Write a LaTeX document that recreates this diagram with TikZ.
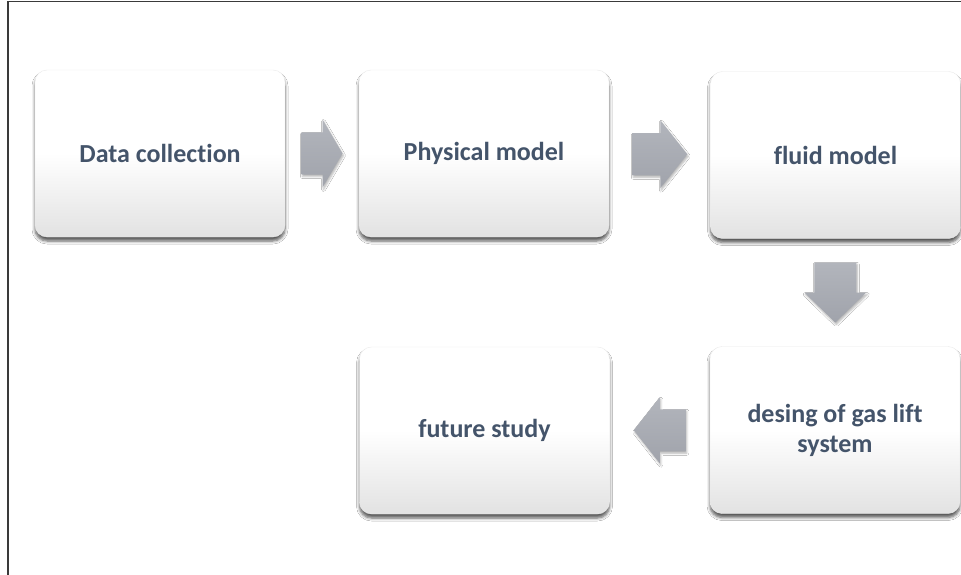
\documentclass[tikz,border=0pt]{standalone}
\usepackage{fontspec}
\setmainfont{Carlito}[Ligatures=NoCommon]
\usetikzlibrary{shadows.blur,calc}
\definecolor{txt}{HTML}{44546A}
\definecolor{arrtop}{HTML}{B2B5BC}
\definecolor{arrbot}{HTML}{A0A3AB}
\definecolor{boxbot}{HTML}{E2E2E2}
\definecolor{frame}{HTML}{3A3A3A}
\tikzset{
  stepbox/.style={rectangle, rounded corners=12pt, minimum width=250pt,
    minimum height=167pt, inner sep=0pt, draw=black!8, line width=0.4pt,
    top color=white, bottom color=boxbot, middle color=white,
    blur shadow={shadow xshift=0pt, shadow yshift=-4pt, shadow blur steps=5,
      shadow blur radius=3pt, shadow opacity=65},
    font=\fontsize{26}{30}\selectfont\bfseries, text=txt, align=center},
  flowarrow/.style={top color=arrtop, bottom color=arrbot, draw=none,
    blur shadow={shadow xshift=1pt, shadow yshift=-2pt, shadow blur steps=4,
      shadow blur radius=2pt, shadow opacity=30}}
}
% block arrow: #1 centre, #2 rotation, #3 total length, #4 head length, #5 head half-width
\newcommand{\blockarrow}[5]{%
  \begin{scope}[shift={(#1)}, rotate=#2]
    \path[flowarrow] (-#3/2,-21) -- (#3/2-#4,-21) -- (#3/2-#4,-#5) -- (#3/2,0)
      -- (#3/2-#4,#5) -- (#3/2-#4,21) -- (-#3/2,21) -- cycle;
  \end{scope}}
\begin{document}
\begin{tikzpicture}[x=1pt,y=-1pt]
  \useasboundingbox (0,0) rectangle (961,575);
  \fill[white] (0,0) rectangle (961,575);
  % outer frame (only left and top edges are visible)
  \draw[frame, line width=1.5pt] (8,575) -- (8,1.5) -- (961,1.5);

  \node[stepbox] (data)   at (160,153.5)   {Data collection};
  \node[stepbox] (phys)   at (484,153.5)   {Physical model};
  \node[stepbox] (fluid)  at (835.5,155)   {fluid model};
  \node[stepbox] (gas)    at (835,430)     {desing of gas lift\\system};
  \node[stepbox] (future) at (484.5,430.5) {future study};

  \coordinate (a1) at ($(data.east)!0.5!(phys.west)$);
  \coordinate (a2) at ($(phys.east)!0.5!(fluid.west)$);
  \coordinate (a3) at ($(fluid.south)!0.5!(gas.north)$);
  \coordinate (a4) at ($(gas.west)!0.5!(future.east)$);

  \blockarrow{a1}{0}{41}{20}{34}
  \blockarrow{a2}{0}{55}{27}{34}
  \blockarrow{a3}{-90}{60}{30}{31}
  \blockarrow{a4}{180}{52}{26}{33}
\end{tikzpicture}
\end{document}
